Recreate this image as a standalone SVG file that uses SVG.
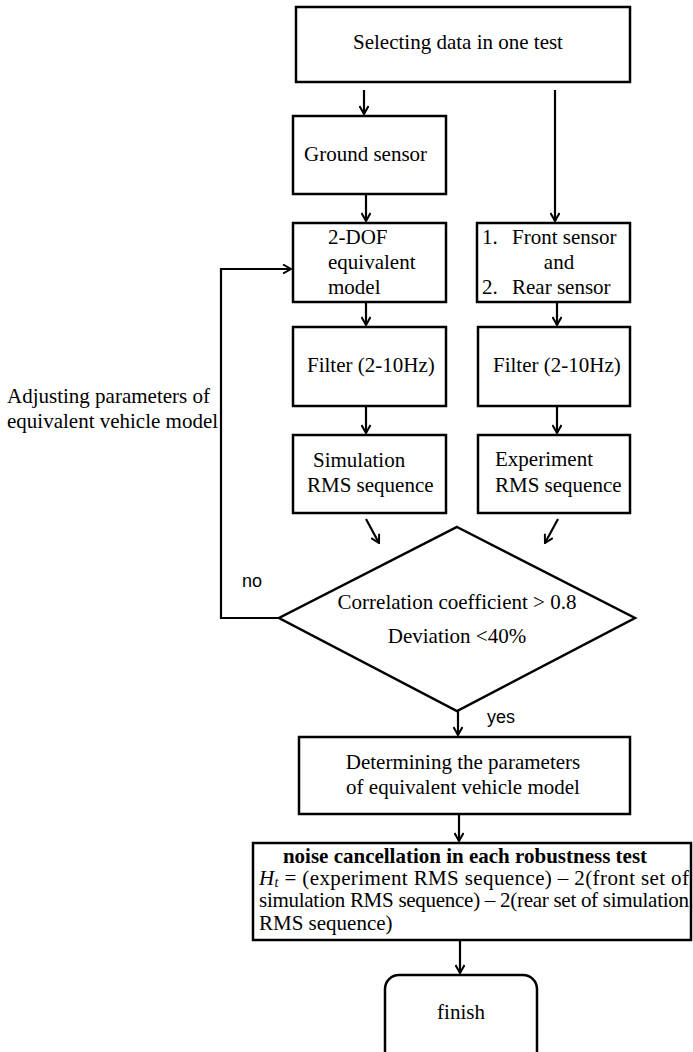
<svg xmlns="http://www.w3.org/2000/svg" width="693" height="1052" viewBox="0 0 693 1052">
<style>
.box{fill:#fff;stroke:#000;stroke-width:2.5}
.t{font-family:"Liberation Serif","Times New Roman",serif;font-size:21px;fill:#000}
.c{text-anchor:middle}
.s{font-family:"Liberation Sans",Arial,sans-serif;font-size:18px;fill:#000}
.ln{fill:none;stroke:#000;stroke-width:2.2}
</style>
<defs>
<marker id="ah" viewBox="0 0 10 10" refX="9" refY="5" markerWidth="10" markerHeight="10" markerUnits="userSpaceOnUse" orient="auto">
<path d="M1,0.5 L9,5 L1,9.5" fill="none" stroke="#000" stroke-width="2"/>
</marker>
</defs>
<g id="connectors">
<line class="ln" x1="364" y1="90" x2="364" y2="114" marker-end="url(#ah)"/>
<line class="ln" x1="555" y1="90" x2="555" y2="221" marker-end="url(#ah)"/>
<line class="ln" x1="366" y1="194" x2="366" y2="221" marker-end="url(#ah)"/>
<line class="ln" x1="366" y1="302" x2="366" y2="325" marker-end="url(#ah)"/>
<line class="ln" x1="557" y1="302" x2="557" y2="325" marker-end="url(#ah)"/>
<line class="ln" x1="366" y1="406" x2="366" y2="433" marker-end="url(#ah)"/>
<line class="ln" x1="557" y1="406" x2="557" y2="433" marker-end="url(#ah)"/>
<line class="ln" x1="366" y1="519" x2="379" y2="543" marker-end="url(#ah)"/>
<line class="ln" x1="558" y1="519" x2="545" y2="543" marker-end="url(#ah)"/>
<polyline class="ln" points="279,618 221,618 221,269 291,269" marker-end="url(#ah)"/>
<line class="ln" x1="458" y1="711" x2="458" y2="735" marker-end="url(#ah)"/>
<line class="ln" x1="459" y1="814" x2="459" y2="841" marker-end="url(#ah)"/>
<line class="ln" x1="460" y1="940" x2="460" y2="973" marker-end="url(#ah)"/>
<text class="s" x="242" y="587">no</text>
<text class="s" x="487" y="723">yes</text>
<text class="t" x="7" y="403">Adjusting parameters of</text>
<text class="t" x="7" y="428">equivalent vehicle model</text>
</g>
<g id="start">
<rect class="box" x="296" y="7" width="334" height="75"/>
<text class="t c" x="458" y="49">Selecting data in one test</text>
</g>
<g id="ground">
<rect class="box" x="293" y="116" width="153" height="78"/>
<text class="t" x="304" y="161">Ground sensor</text>
</g>
<g id="dof">
<rect class="box" x="293" y="223" width="153" height="79"/>
<text class="t" x="328" y="244">2-DOF</text>
<text class="t" x="328" y="269">equivalent</text>
<text class="t" x="328" y="294">model</text>
</g>
<g id="sensors">
<rect class="box" x="477" y="223" width="153" height="79"/>
<text class="t" x="482" y="244">1.</text>
<text class="t" x="512" y="244">Front sensor</text>
<text class="t c" x="559" y="269">and</text>
<text class="t" x="482" y="294">2.</text>
<text class="t" x="512" y="294">Rear sensor</text>
</g>
<g id="filter1">
<rect class="box" x="293" y="327" width="153" height="79"/>
<text class="t" x="307" y="372">Filter (2-10Hz)</text>
</g>
<g id="filter2">
<rect class="box" x="478" y="327" width="152" height="79"/>
<text class="t" x="493" y="372">Filter (2-10Hz)</text>
</g>
<g id="sim">
<rect class="box" x="293" y="435" width="153" height="78"/>
<text class="t" x="313" y="467">Simulation</text>
<text class="t" x="307" y="492">RMS sequence</text>
</g>
<g id="exp">
<rect class="box" x="478" y="435" width="152" height="78"/>
<text class="t" x="495" y="466">Experiment</text>
<text class="t" x="495" y="492">RMS sequence</text>
</g>
<g id="decision">
<polygon class="box" points="457,527 635,618 457,711 279,618"/>
<text class="t c" x="457" y="609">Correlation coefficient &gt; 0.8</text>
<text class="t c" x="457" y="643">Deviation &lt;40%</text>
</g>
<g id="determine">
<rect class="box" x="299" y="737" width="331" height="77"/>
<text class="t c" x="463" y="769">Determining the parameters</text>
<text class="t c" x="463" y="794">of equivalent vehicle model</text>
</g>
<g id="noise">
<rect class="box" x="253" y="843" width="438" height="97"/>
<text class="t c" x="465" y="863" font-weight="bold">noise cancellation in each robustness test</text>
<text class="t" x="259" y="885" textLength="430" lengthAdjust="spacing"><tspan font-style="italic">H</tspan><tspan font-style="italic" font-size="14" dy="2">t</tspan><tspan dy="-2"> = (experiment RMS sequence) – 2(front set of</tspan></text>
<text class="t" x="259" y="907" textLength="430" lengthAdjust="spacing">simulation RMS sequence) –  2(rear set of simulation</text>
<text class="t" x="259" y="930">RMS sequence)</text>
</g>
<g id="finish">
<rect class="box" x="385" y="975" width="152" height="95" rx="14" ry="14"/>
<text class="t c" x="461" y="1019">finish</text>
</g>
</svg>
